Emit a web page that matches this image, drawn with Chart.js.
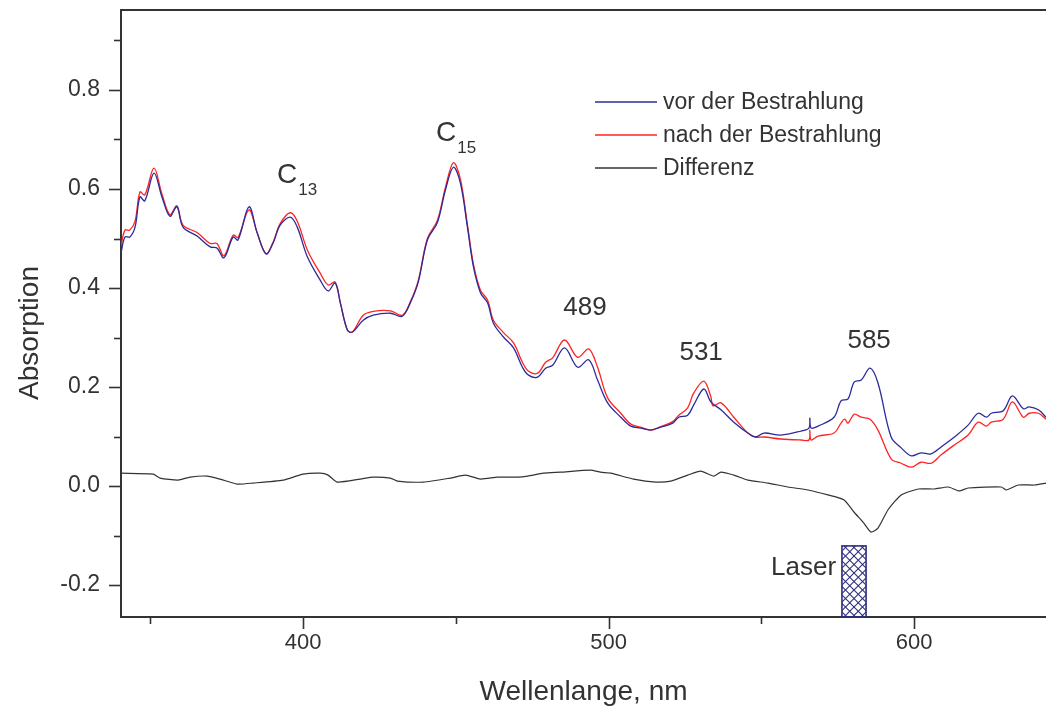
<!DOCTYPE html>
<html><head><meta charset="utf-8">
<script src="https://cdn.jsdelivr.net/npm/chart.js@4/dist/chart.umd.min.js"></script>
<style>html,body{margin:0;padding:0;background:#fff;}</style>
</head><body>
<canvas id="c" width="1046" height="713"></canvas>
<script>
// ---- data ----
const wlVor = [340.4,341.7,343.3,345.0,346.6,348.2,351.2,353.8,356.4,358.7,360.7,365.3,369.6,371.8,374.1,377.1,378.7,382.3,385.0,387.9,390.2,392.5,395.8,398.1,401.4,405.6,408.2,410.5,412.2,414.5,416.1,419.7,423.0,428.6,432.5,435.1,437.7,440.7,444.0,446.6,449.2,451.5,453.8,455.8,458.1,460.4,462.3,465.6,468.9,471.8,473.8,476.8,479.4,481.7,485.6,489.9,493.5,496.4,499.7,504.0,507.3,510.5,513.8,517.1,521.0,523.0,525.9,527.9,531.2,533.5,536.8,541.0,545.6,548.2,550.9,556.4,563.0,565.6,565.9,566.3,568.6,573.8,576.1,578.4,580.4,582.7,585.6,588.2,592.5,595.8,599.1,602.3,605.6,608.9,613.2,617.7,621.0,623.7,625.3,629.2,632.2,635.8,637.7,640.7,643.2];
const absVor = [0.471,0.503,0.503,0.523,0.584,0.576,0.632,0.584,0.545,0.564,0.523,0.505,0.483,0.481,0.461,0.503,0.497,0.564,0.511,0.469,0.491,0.527,0.543,0.523,0.463,0.416,0.394,0.410,0.370,0.315,0.311,0.335,0.345,0.349,0.343,0.370,0.412,0.497,0.533,0.598,0.644,0.612,0.523,0.442,0.390,0.370,0.329,0.301,0.279,0.240,0.224,0.220,0.238,0.244,0.279,0.240,0.255,0.214,0.168,0.139,0.121,0.117,0.113,0.119,0.127,0.139,0.143,0.164,0.196,0.170,0.154,0.129,0.107,0.099,0.107,0.103,0.111,0.117,0.137,0.117,0.121,0.139,0.172,0.176,0.210,0.214,0.238,0.208,0.099,0.077,0.061,0.067,0.065,0.079,0.099,0.123,0.147,0.139,0.147,0.152,0.182,0.156,0.160,0.154,0.139];

const wlNach = [340.4,341.7,343.3,345.0,346.6,348.2,351.2,353.8,356.4,358.7,360.7,365.3,369.6,371.8,374.1,377.1,378.7,382.3,385.0,387.9,390.2,392.5,395.8,398.1,401.4,405.6,408.2,410.5,412.2,414.5,416.1,419.7,423.0,428.6,432.5,435.1,437.7,440.7,444.0,446.6,449.2,451.5,453.8,455.8,458.1,460.4,462.3,465.6,468.9,471.8,473.8,476.8,479.4,481.7,485.6,489.9,493.5,496.4,499.7,504.0,507.3,510.5,513.8,517.1,521.0,523.0,525.9,527.9,531.2,533.5,534.2,536.8,541.0,545.6,548.2,550.9,556.4,563.0,565.6,565.9,566.3,568.6,573.8,576.1,577.3,578.4,580.4,582.7,585.6,588.2,592.5,595.8,599.1,602.3,605.6,608.9,613.2,617.7,621.0,623.7,625.3,629.2,632.2,635.8,637.7,640.7,643.2];
const absNach = [0.485,0.517,0.517,0.535,0.594,0.588,0.642,0.590,0.548,0.566,0.527,0.512,0.490,0.490,0.465,0.507,0.502,0.558,0.511,0.469,0.493,0.530,0.552,0.535,0.477,0.430,0.406,0.412,0.370,0.315,0.311,0.345,0.353,0.354,0.345,0.372,0.415,0.500,0.537,0.603,0.653,0.620,0.528,0.447,0.395,0.376,0.335,0.310,0.289,0.250,0.232,0.228,0.250,0.259,0.295,0.260,0.277,0.240,0.178,0.147,0.125,0.119,0.113,0.120,0.130,0.143,0.158,0.188,0.212,0.180,0.162,0.168,0.139,0.107,0.099,0.099,0.095,0.093,0.093,0.113,0.093,0.101,0.107,0.127,0.135,0.127,0.145,0.139,0.135,0.113,0.055,0.046,0.038,0.048,0.046,0.063,0.083,0.103,0.129,0.121,0.129,0.135,0.170,0.139,0.147,0.147,0.135];

const wlDiff = [340.4,350.9,353.2,359.1,363.0,368.6,372.8,378.4,383.7,393.5,400.0,405.6,408.2,411.2,418.7,423.0,428.6,430.9,439.4,448.2,453.2,458.1,463.7,470.2,473.5,478.7,484.3,494.1,497.4,500.7,508.2,515.5,520.4,525.9,530.2,534.5,536.8,541.0,545.6,552.2,558.7,565.3,571.8,577.1,580.4,583.3,585.9,588.2,591.5,595.8,601.4,606.6,611.2,614.8,617.7,628.6,630.2,634.1,639.4,643.2];
const absDiff = [0.026,0.024,0.016,0.012,0.018,0.020,0.014,0.004,0.006,0.012,0.024,0.026,0.022,0.008,0.014,0.018,0.016,0.010,0.008,0.016,0.022,0.014,0.018,0.018,0.020,0.026,0.028,0.032,0.028,0.026,0.014,0.008,0.010,0.022,0.030,0.020,0.028,0.022,0.012,0.006,-0.002,-0.008,-0.018,-0.028,-0.053,-0.073,-0.093,-0.085,-0.048,-0.018,-0.006,-0.006,-0.002,-0.010,-0.004,-0.002,-0.008,0.002,0.002,0.006];

const seriesNames = ['vor der Bestrahlung', 'nach der Bestrahlung', 'Differenz'];
const xTickValues = [350, 400, 450, 500, 550, 600];
const xTickLabels = ['', '400', '', '500', '', '600'];
const yTickValues = [-0.2, -0.1, 0.0, 0.1, 0.2, 0.3, 0.4, 0.5, 0.6, 0.7, 0.8, 0.9];
const yTickLabels = ['-0.2', '', '0.0', '', '0.2', '', '0.4', '', '0.6', '', '0.8', ''];
// peak annotations: [text, subscript, wavelength, absorption]
const peakNotes = [['C', '13', 391.5, 0.627], ['C', '15', 443.5, 0.713], ['489', '', 492.3, 0.36], ['531', '', 530.3, 0.269], ['585', '', 585.3, 0.293]];
const laserRange = [576.4, 584.3];
const laserTop = -0.121;
const laserLabel = 'Laser';

const FONT = "'Liberation Sans', Arial, Helvetica, sans-serif";
const TXT = '#333333';
const colors = ['#2b2b9b', '#ff2424', '#333333'];

function pts(xs, ys) { return xs.map((x, i) => ({x: x, y: ys[i]})); }

const decor = {
  id: 'decor',
  afterDatasetsDraw(chart) {
    const ctx = chart.ctx, a = chart.chartArea, xs = chart.scales.x, ys = chart.scales.y;
    ctx.save();
    // laser hatched box
    const lx0 = xs.getPixelForValue(laserRange[0]), lx1 = xs.getPixelForValue(laserRange[1]);
    const ly0 = ys.getPixelForValue(laserTop), ly1 = a.bottom;
    ctx.save();
    ctx.beginPath(); ctx.rect(lx0, ly0, lx1 - lx0, ly1 - ly0); ctx.clip();
    ctx.strokeStyle = '#2e2e7e'; ctx.lineWidth = 1.1;
    const sp = 8.5;
    for (let k = -100; k < 200; k += sp) {
      ctx.beginPath(); ctx.moveTo(lx0 + k, ly0); ctx.lineTo(lx0 + k + 100, ly0 + 100); ctx.stroke();
      ctx.beginPath(); ctx.moveTo(lx1 - k, ly0); ctx.lineTo(lx1 - k - 100, ly0 + 100); ctx.stroke();
    }
    ctx.restore();
    ctx.strokeStyle = '#2e2e7e'; ctx.lineWidth = 1.6;
    ctx.strokeRect(lx0, ly0, lx1 - lx0, ly1 - ly0);
    ctx.fillStyle = TXT;
    ctx.font = '26px ' + FONT; ctx.textAlign = 'right'; ctx.textBaseline = 'middle';
    ctx.fillText(laserLabel, xs.getPixelForValue(574.5), ys.getPixelForValue(-0.166));
    // peak notes
    peakNotes.forEach(n => {
      const px = xs.getPixelForValue(n[2]), py = ys.getPixelForValue(n[3]);
      if (n[1]) {
        ctx.font = '28px ' + FONT; ctx.textAlign = 'left'; ctx.textBaseline = 'middle';
        ctx.fillText(n[0], px, py);
        const w = ctx.measureText(n[0]).width;
        ctx.font = '17px ' + FONT;
        ctx.fillText(n[1], px + w + 1, py + 15);
      } else {
        ctx.font = '26px ' + FONT; ctx.textAlign = 'center'; ctx.textBaseline = 'middle';
        ctx.fillText(n[0], px, py);
      }
    });
    // legend
    chart.data.datasets.forEach((d, i) => {
      const y = 102 + i * 33;
      ctx.strokeStyle = d.borderColor; ctx.lineWidth = 1.3;
      ctx.beginPath(); ctx.moveTo(595, y); ctx.lineTo(657, y); ctx.stroke();
      ctx.fillStyle = TXT; ctx.font = '23px ' + FONT; ctx.textAlign = 'left'; ctx.textBaseline = 'middle';
      ctx.fillText(d.label, 663, y + 1);
    });
    // frame top + ticks
    ctx.strokeStyle = TXT; ctx.lineWidth = 2;
    ctx.beginPath(); ctx.moveTo(a.left, a.top); ctx.lineTo(a.right, a.top); ctx.stroke();
    xTickValues.forEach((v, i) => {
      const px = Math.round(xs.getPixelForValue(v)) + 0.5;
      const len = xTickLabels[i] ? 12 : 7;
      ctx.lineWidth = 1.6;
      ctx.beginPath(); ctx.moveTo(px, a.bottom); ctx.lineTo(px, a.bottom + len); ctx.stroke();
    });
    yTickValues.forEach((v, i) => {
      const py = Math.round(ys.getPixelForValue(v)) + 0.5;
      const len = yTickLabels[i] ? 12 : 7;
      ctx.lineWidth = 1.6;
      ctx.beginPath(); ctx.moveTo(a.left, py); ctx.lineTo(a.left - len, py); ctx.stroke();
    });
    ctx.restore();
  }
};

new Chart(document.getElementById('c'), {
  type: 'line',
  data: {
    datasets: [
      {label: seriesNames[0], data: pts(wlVor, absVor), borderColor: colors[0], borderWidth: 1.3, tension: 0.35, pointRadius: 0, fill: false},
      {label: seriesNames[1], data: pts(wlNach, absNach), borderColor: colors[1], borderWidth: 1.3, tension: 0.35, pointRadius: 0, fill: false},
      {label: seriesNames[2], data: pts(wlDiff, absDiff), borderColor: colors[2], borderWidth: 1.2, tension: 0.2, pointRadius: 0, fill: false}
    ]
  },
  options: {
    responsive: false,
    animation: false,
    devicePixelRatio: 1,
    layout: {padding: {top: 10, left: 0, right: 0, bottom: 0}},
    plugins: {legend: {display: false}, tooltip: {enabled: false}},
    scales: {
      x: {
        type: 'linear', min: 340.4, max: 643.2,
        afterBuildTicks: s => { s.ticks = xTickValues.map(v => ({value: v})); },
        afterFit: s => { s.height = 96; s.paddingLeft = 0; s.paddingRight = 0; },
        grid: {display: false, drawTicks: false},
        border: {display: true, color: TXT, width: 2},
        ticks: {autoSkip: false, maxRotation: 0, padding: 13, color: TXT, font: {family: FONT, size: 22},
          callback: (v, i) => xTickLabels[xTickValues.indexOf(v)] || ''},
        title: {display: true, text: 'Wellenlange, nm', color: TXT, font: {family: FONT, size: 28}, padding: {top: 0, bottom: 4}}
      },
      y: {
        type: 'linear', min: -0.2646, max: 0.9616,
        afterBuildTicks: s => { s.ticks = yTickValues.map(v => ({value: v})); },
        afterFit: s => { s.width = 121; s.paddingTop = 0; s.paddingBottom = 0; },
        grid: {display: false, drawTicks: false},
        border: {display: true, color: TXT, width: 2},
        ticks: {autoSkip: false, padding: 21, color: TXT, font: {family: FONT, size: 23},
          callback: (v) => { const i = yTickValues.findIndex(t => Math.abs(t - v) < 1e-6); return i >= 0 ? yTickLabels[i] : ''; }},
        title: {display: true, text: 'Absorption     ', color: TXT, font: {family: FONT, size: 28}, padding: {top: 13, bottom: 0}}
      }
    }
  },
  plugins: [decor]
});
</script>
</body></html>
